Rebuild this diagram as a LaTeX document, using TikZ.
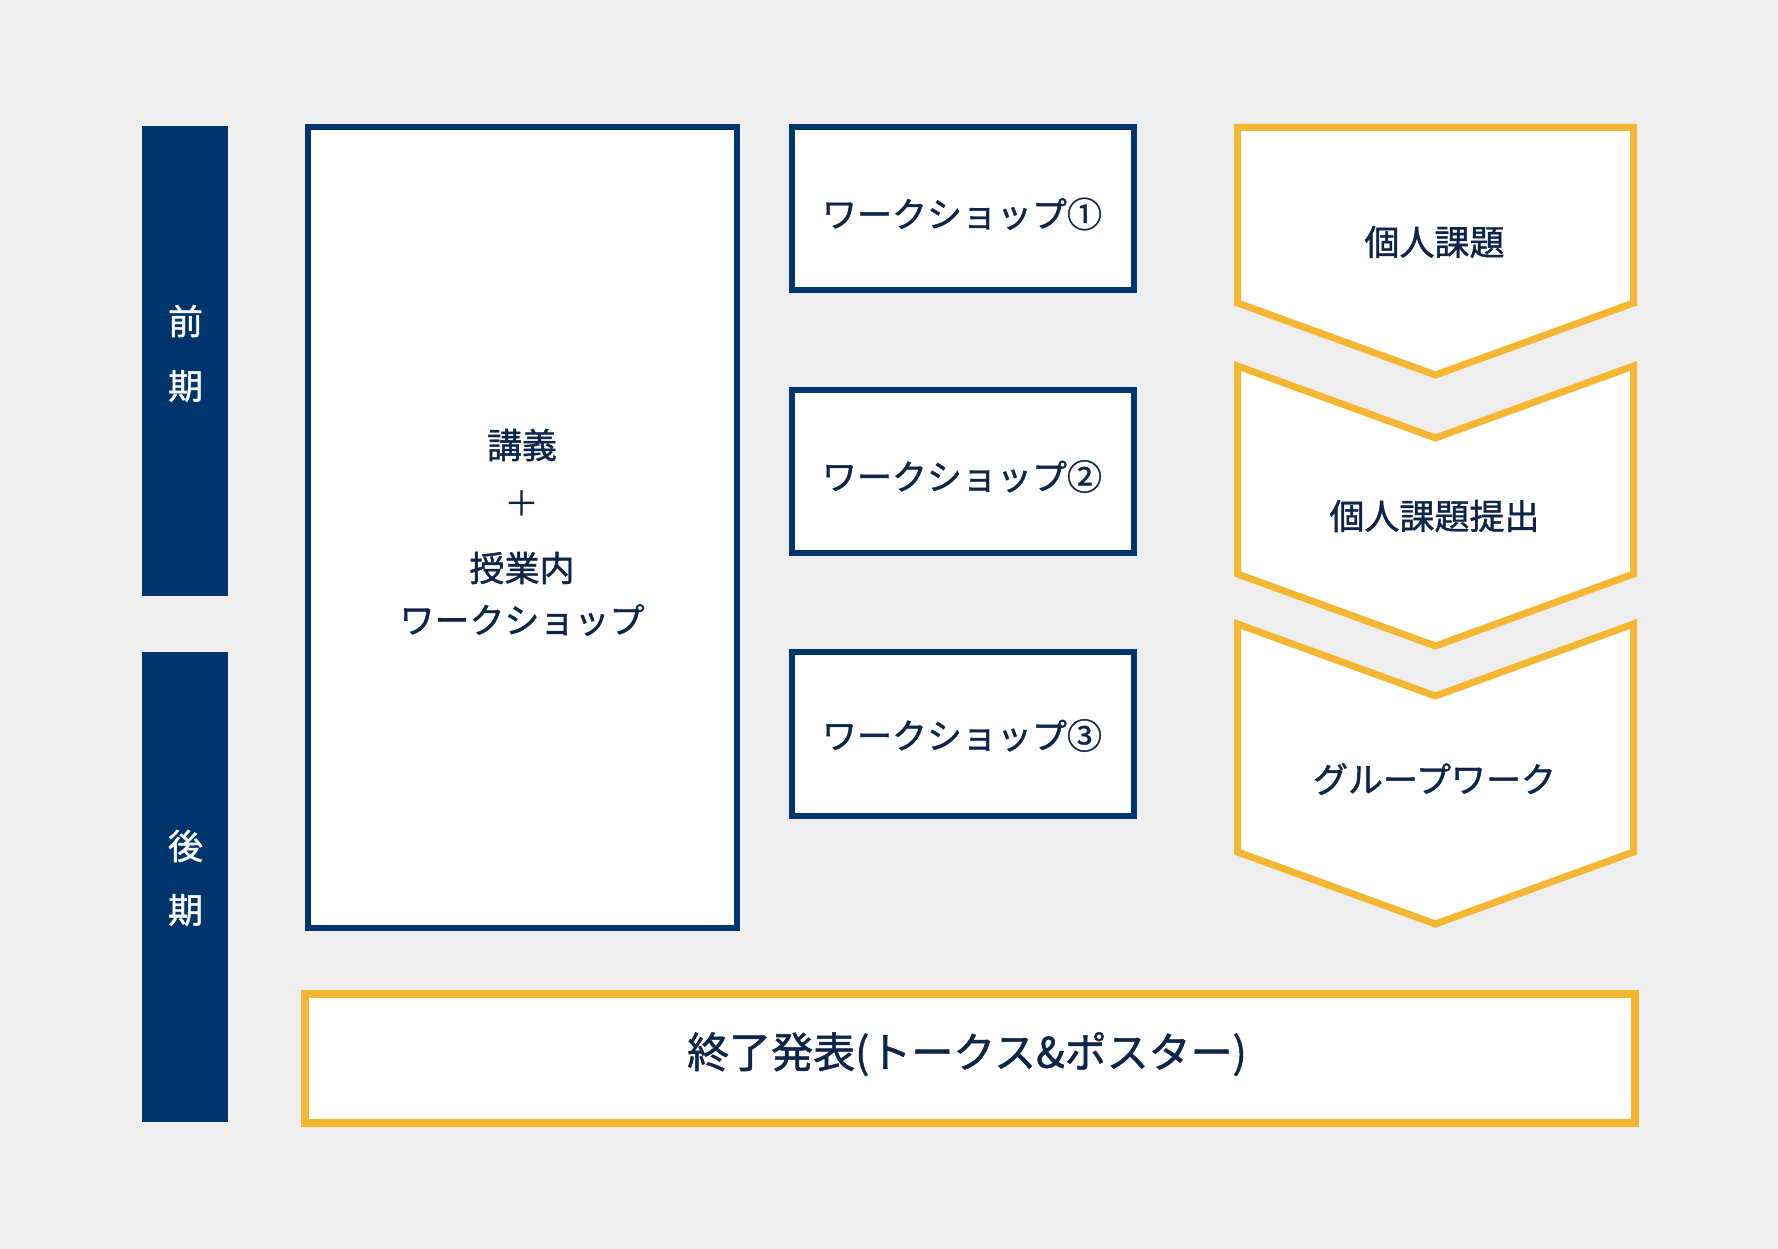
\documentclass[tikz,border=0pt]{standalone}
\usepackage{fontspec}
\setmainfont{Noto Sans CJK JP}
\newfontfamily\jpmed{Noto Sans CJK JP}[FakeBold=1.2]
\definecolor{bg}{RGB}{238,238,238}
\definecolor{navy}{RGB}{0,52,108}
\definecolor{ink}{RGB}{14,36,72}
\definecolor{gold}{RGB}{245,182,50}
\tikzset{
  bar/.style={fill=navy, draw=none, minimum width=86, minimum height=470, inner sep=0},
  barlabel/.style={text=white, font=\jpmed\fontsize{35}{42}\selectfont, inner sep=0},
  navybox/.style={draw=navy, fill=white, line width=6, inner sep=0},
  chev/.style={draw=gold, fill=white, line width=7, line join=miter},
  endbox/.style={draw=gold, fill=white, line width=8.5, inner sep=0},
  label/.style={text=ink, font=\jpmed\fontsize{35}{42}\selectfont, inner sep=0, align=center},
  thinlabel/.style={text=ink, font=\fontsize{35}{42}\selectfont, inner sep=0},
  biglabel/.style={text=ink, font=\jpmed\fontsize{42}{48}\selectfont, inner sep=0},
}
\begin{document}
\begin{tikzpicture}[x=1pt,y=-1pt]
\fill[bg] (0,0) rectangle (1778,1249);
\useasboundingbox (0,0) rectangle (1778,1249);

% period bars
\node[bar] (zenki) at (185,361) {};
\node[bar] (kouki) at (185,887) {};
\node[barlabel] (zen) at (185.5,321) {前};
\node[barlabel] (ki1) at (185.5,386) {期};
\node[barlabel] (go) at (185.5,846) {後};
\node[barlabel] (ki2) at (185.5,910) {期};

% big box
\node[navybox, minimum width=429, minimum height=801] (lecture) at (522.5,527.5) {};
\node[label] (kogi) at (522,445) {講義};
\node[thinlabel] (plus) at (522,504) {＋};
\node[label] (jugyo) at (522,568) {授業内};
\node[label] (jws) at (522,620) {ワークショップ};

% workshops
\node[navybox, minimum width=342, minimum height=163] (ws1) at (963,208.5) {};
\node[navybox, minimum width=342, minimum height=163] (ws2) at (963,471.5) {};
\node[navybox, minimum width=342, minimum height=164] (ws3) at (963,734) {};
\node[label] (ws1t) at (962,214) {ワークショップ①};
\node[label] (ws2t) at (962,476.5) {ワークショップ②};
\node[label] (ws3t) at (962,735.5) {ワークショップ③};

% chevrons
\draw[chev] (1237.5,127.5) -- (1633.5,127.5) -- (1633.5,303) -- (1435.5,375) -- (1237.5,303) -- cycle;
\draw[chev] (1237.5,366) -- (1435.5,438) -- (1633.5,366) -- (1633.5,574) -- (1435.5,646) -- (1237.5,574) -- cycle;
\draw[chev] (1237.5,624) -- (1435.5,696) -- (1633.5,624) -- (1633.5,852) -- (1435.5,924) -- (1237.5,852) -- cycle;
\node[label] (c1t) at (1434.5,242) {個人課題};
\node[label] (c2t) at (1434.5,516) {個人課題提出};
\node[label] (c3t) at (1434.5,779) {グループワーク};

% final presentation
\node[endbox, minimum width=1330, minimum height=129] (final) at (970,1058.5) {};
\node[biglabel] (finalt) at (967,1054) {終了発表(トークス\&ポスター)};
\end{tikzpicture}
\end{document}
